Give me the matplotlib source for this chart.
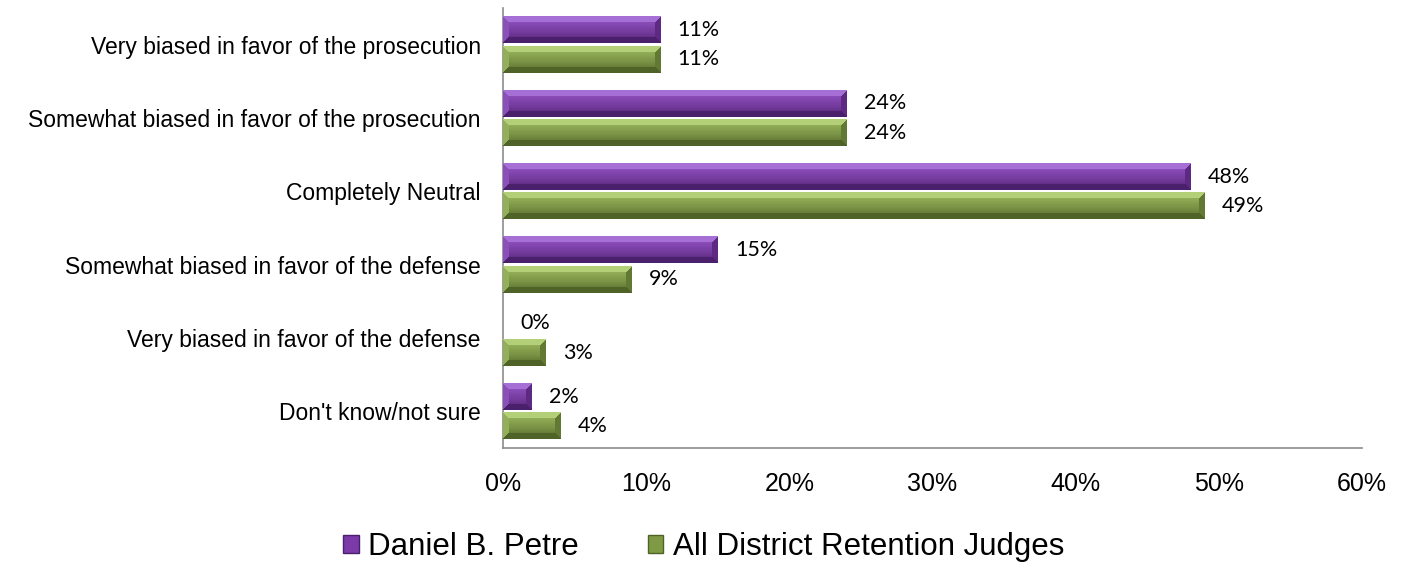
import numpy as np
import matplotlib
matplotlib.use('Agg')
import matplotlib.pyplot as plt
from matplotlib.patches import Patch
from matplotlib.colors import to_rgb

# Data
categories = ['Very biased in favor of the prosecution',
              'Somewhat biased in favor of the prosecution',
              'Completely Neutral',
              'Somewhat biased in favor of the defense',
              'Very biased in favor of the defense',
              "Don't know/not sure"]
petre = [11, 24, 48, 15, 0, 2]
all_judges = [11, 24, 49, 9, 3, 4]
series_names = ['Daniel B. Petre', 'All District Retention Judges']

purple = ('#7b3aa8', '#a56fd6', '#4a1f6b')
green = ('#7f9a45', '#b3cf78', '#4f6328')

W, H = 1407, 575
fig = plt.figure(figsize=(W / 100, H / 100), dpi=100)
ax = fig.add_axes([503 / W, 1 - 448 / H, (1362 - 503) / W, 440 / H])

px_per_unit = (1362 - 503) / 60.0
px_per_cat = 440 / 6.0


def bevel(w_px, h_px, cols, b=6):
    base, light, dark = [np.array(to_rgb(c)) for c in cols]
    img = np.zeros((h_px, w_px, 3))
    for i in range(h_px):
        for j in range(w_px):
            d = [i, h_px - 1 - i, j, w_px - 1 - j]
            k = int(np.argmin(d))
            if d[k] < b:
                if k == 0:
                    c = light
                elif k == 1:
                    c = dark
                elif k == 2:
                    c = 0.6 * base + 0.4 * light
                else:
                    c = 0.4 * base + 0.6 * dark
            else:
                t = (i - b) / max(h_px - 2 * b, 1)
                c = light * 0.35 * (1 - t) + base * (1 - 0.35 * (1 - t)) * (1 - 0.2 * t)
            img[i, j] = c
    return np.clip(img, 0, 1)


y = np.arange(len(categories))
bh = 0.36
off = 0.2
bars1 = ax.barh(y - off, petre, height=bh, color=purple[0], edgecolor='none')
bars2 = ax.barh(y + off, all_judges, height=bh, color=green[0], edgecolor='none')

for bars, vals, cols in [(bars1, petre, purple), (bars2, all_judges, green)]:
    for bar, v in zip(bars, vals):
        yc = bar.get_y() + bar.get_height() / 2
        if v > 0:
            wpx = max(int(v * px_per_unit), 2)
            hpx = int(bh * px_per_cat)
            img = bevel(wpx, hpx, cols)
            ax.imshow(img, extent=(0, v, yc + bh / 2, yc - bh / 2),
                      origin='upper', aspect='auto', zorder=3,
                      interpolation='nearest')
        ax.text(v + 1.2, yc, f'{v}%', va='center', ha='left',
                fontsize=15.5, family='Lato', color='black')

ax.set_xlim(0, 60)
ax.set_ylim(len(categories) - 0.5, -0.5)

ax.set_yticks(y)
ax.set_yticklabels(categories, fontsize=16.5, family='Liberation Sans')
ax.set_xticks(np.arange(0, 61, 10))
ax.set_xticklabels([f'{t}%' for t in range(0, 61, 10)], fontsize=18,
                   family='Liberation Sans')
ax.tick_params(axis='both', length=0)
ax.tick_params(axis='x', pad=17)
ax.tick_params(axis='y', pad=16)
for s in ['top', 'right']:
    ax.spines[s].set_visible(False)
for s in ['left', 'bottom']:
    ax.spines[s].set_color('#8c8c8c')
    ax.spines[s].set_linewidth(1.2)

handles = [Patch(facecolor=purple[0], edgecolor=purple[2]),
           Patch(facecolor=green[0], edgecolor=green[2])]
fig.legend(handles, series_names, loc='center', bbox_to_anchor=(0.5, 1 - 547 / H),
           ncol=2, frameon=False, handlelength=0.5,
           handleheight=0.5, handletextpad=0.3, columnspacing=2.2,
           prop={'family': 'Liberation Sans', 'size': 22.5})

fig.savefig('out.png', dpi=100)
